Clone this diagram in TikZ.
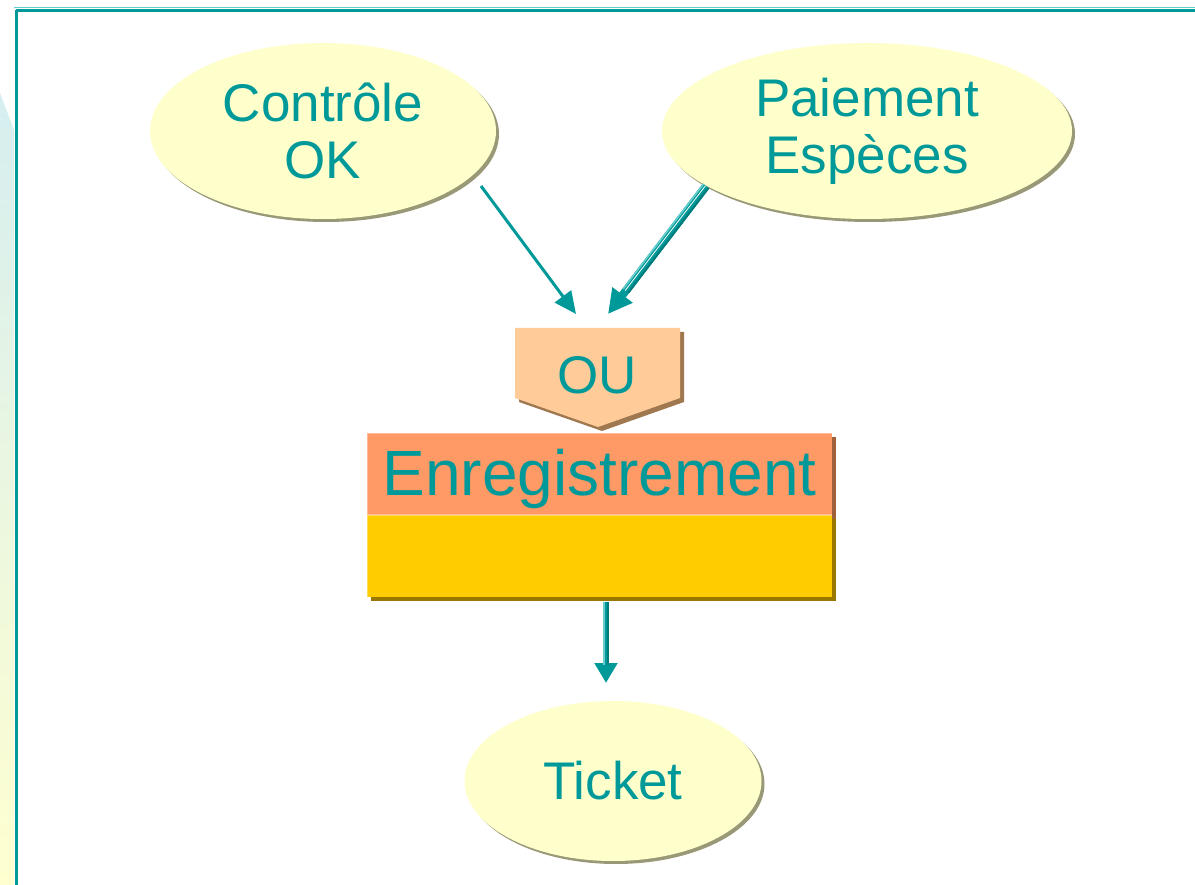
\documentclass[tikz,border=0pt]{standalone}
\usepackage{fontspec}
\setmainfont{Liberation Sans}
\usetikzlibrary{shapes.geometric,shadows,arrows.meta,calc}
\definecolor{tealtxt}{HTML}{009999}
\definecolor{tealdark}{HTML}{007B7B}
\definecolor{teallight}{HTML}{66CCCC}
\definecolor{ellfill}{HTML}{FFFFCC}
\definecolor{ellshadow}{HTML}{999977}
\definecolor{oufill}{HTML}{FFCC99}
\definecolor{oushadow}{HTML}{A07850}
\definecolor{salmon}{HTML}{FF9966}
\definecolor{salmonshadow}{HTML}{A0603A}
\definecolor{gold}{HTML}{FFCC00}
\definecolor{goldshadow}{HTML}{997700}
\definecolor{stripcyan}{HTML}{D6EEF0}
\definecolor{stripyellow}{HTML}{FFFFD0}
\begin{document}
\begin{tikzpicture}[x=1pt,y=-1pt,
  ellip/.style={ellipse, fill=ellfill, text=tealtxt, align=center, inner sep=0pt,
    font=\fontsize{53}{57}\selectfont,
    drop shadow={shadow xshift=3pt, shadow yshift=-3pt, opacity=1, fill=ellshadow}},
  conn/.style={draw=tealtxt, line width=3pt, -{Triangle[length=22pt,width=20pt]}},
  boxtop/.style={rectangle, fill=salmon, minimum width=465pt, minimum height=82pt, inner sep=0pt},
  boxbot/.style={rectangle, fill=gold, minimum width=465pt, minimum height=82pt, inner sep=0pt}
]
\useasboundingbox (0,0) rectangle (1195,885);
\fill[white] (0,0) rectangle (1195,885);
% left strip
\shade[top color=stripcyan, bottom color=stripyellow] (0,93) -- (14,130) -- (14,885) -- (0,885) -- cycle;
% frame
\draw[teallight, line width=1pt] (14,8) -- (1195,8);
\draw[tealtxt, line width=3pt] (16,10.5) -- (1195,10.5);
\draw[tealtxt, line width=3pt] (16,10) -- (16,885);

% ellipses
\node[ellip, minimum width=346pt, minimum height=176pt] (ctrl) at (323,131) {Contrôle\\OK};
\node[ellip, minimum width=410pt, minimum height=176pt] (paie) at (867,131) {Paiement\\Espèces};
\node[ellip, minimum width=297pt, minimum height=160pt] (ticket) at (613,781) {Ticket};

% OU pentagon
\fill[oushadow] (519,332) -- (684,332) -- (684,402) -- (602,431) -- (519,402) -- cycle;
\fill[oufill] (515,328) -- (680,328) -- (680,398) -- (598,427) -- (515,398) -- cycle;
\node[text=tealtxt, font=\fontsize{53}{57}\selectfont, inner sep=0pt] (ou) at (597,375) {OU};

% Enregistrement box
\fill[salmonshadow] (371,437) rectangle (836,519);
\fill[goldshadow] (371,519) rectangle (836,601);
\node[boxtop] (enr) at (599.5,474) {};
\node[boxbot, anchor=north] (enrb) at (enr.south) {};
\node[text=tealtxt, font=\fontsize{64}{70}\selectfont, inner sep=0pt] (enrtxt) at ([yshift=-5pt]enr.center) {Enregistrement};
\draw[white, opacity=0.35, line width=1.5pt] (enr.south west) -- (enr.north west) -- (enr.north east);
\draw[white, opacity=0.35, line width=1.5pt] (enrb.south west) -- (enrb.north west) -- (enrb.north east);

% connector endpoints
\coordinate (a1s) at (481,186);
\coordinate (a1e) at (576,314);
\coordinate (a2s) at (706,186);
\coordinate (a2e) at (608,314);
\coordinate (a3s) at (606,602);
\coordinate (a3e) at (606,683);

% arrow 1
\draw[conn] (a1s) -- (a1e);
% arrow 2 (striped)
\draw[draw=tealtxt, line width=8pt, -{Triangle[length=24pt,width=24pt]}] (a2s) -- (a2e);
\draw[tealdark, line width=2pt] ([xshift=2.5pt,yshift=-2pt]a2s) -- ([xshift=2.5pt,yshift=-2pt]$(a2s)!0.82!(a2e)$);
\draw[teallight, line width=1.6pt] ([xshift=-2.5pt,yshift=2pt]a2s) -- ([xshift=-2.5pt,yshift=2pt]$(a2s)!0.82!(a2e)$);
\draw[white, line width=0.8pt] ([xshift=-0.5pt,yshift=0.4pt]a2s) -- ([xshift=-0.5pt,yshift=0.4pt]$(a2s)!0.82!(a2e)$);
% arrow 3
\draw[draw=tealtxt, line width=6pt, -{Triangle[length=20pt,width=22pt]}] (a3s) -- (a3e);
\draw[tealdark, line width=2pt] ([xshift=2pt]a3s) -- ([xshift=2pt]$(a3s)!0.78!(a3e)$);
\draw[teallight, line width=2pt] ([xshift=-2pt]a3s) -- ([xshift=-2pt]$(a3s)!0.78!(a3e)$);
\end{tikzpicture}
\end{document}
